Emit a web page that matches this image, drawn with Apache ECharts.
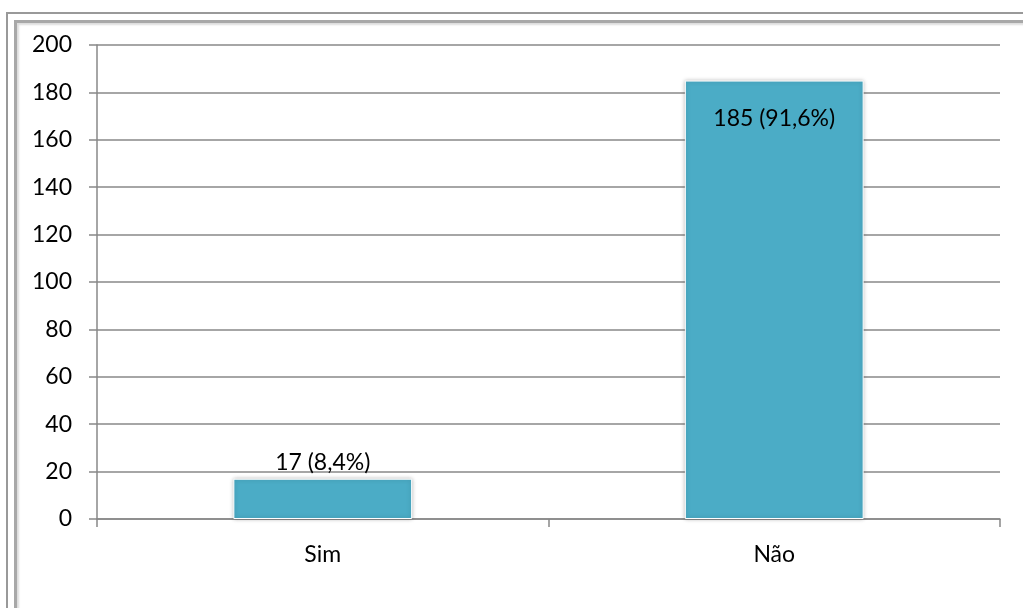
<!DOCTYPE html>
<html>
<head>
<meta charset="utf-8">
<script src="https://cdn.jsdelivr.net/npm/echarts@6/dist/echarts.min.js"></script>
<style>
html,body{margin:0;padding:0;background:#fff;}
#wrap{position:relative;width:1023px;height:608px;overflow:hidden;}
#main{position:absolute;left:0;top:0;width:1023px;height:608px;}
.f1{position:absolute;left:6px;top:12px;width:1100px;height:700px;border-left:2px solid #999;border-top:2px solid #999;}
.f2{position:absolute;left:14px;top:20px;width:1100px;height:700px;border-left:3px solid #a8a8a8;border-top:3px solid #a8a8a8;box-shadow:inset 2px 2px 2px #ddd;}
</style>
</head>
<body>
<div id="wrap">
<div class="f1"></div>
<div class="f2"></div>
<div id="main"></div>
</div>
<script>
// dados
var categorias = ['Sim', 'Não'];
var valores = [17, 185];
var rotulos = ['17 (8,4%)', '185 (91,6%)'];
var eixoY = {min: 0, max: 200, interval: 20};

var chart = echarts.init(document.getElementById('main'));
var fonte = 'Lato, "Open Sans", sans-serif';

var dados = [];
for (var i = 0; i < valores.length; i++) {
	dados.push({
		value: valores[i],
		label: i == 0 ? {position: 'top', distance: 5} : {position: 'insideTop', distance: 27}
	});
}

var option = {
	animation: false,
	grid: {left: 97, right: 23, top: 45, bottom: 89},
	xAxis: {
		type: 'category',
		data: categorias,
		axisLine: {lineStyle: {color: '#888', width: 1.5}},
		axisTick: {show: true, length: 8, lineStyle: {color: '#888', width: 1.5}},
		axisLabel: {color: '#000', fontSize: 23, fontFamily: fonte, margin: 24}
	},
	yAxis: {
		type: 'value',
		min: eixoY.min,
		max: eixoY.max,
		interval: eixoY.interval,
		axisLine: {show: true, lineStyle: {color: '#888', width: 1.5}},
		axisTick: {show: true, length: 8, lineStyle: {color: '#888', width: 1.5}},
		axisLabel: {color: '#000', fontSize: 23, fontFamily: fonte, margin: 25},
		splitLine: {lineStyle: {color: '#888', width: 1.5}}
	},
	series: [{
		type: 'bar',
		data: dados,
		barWidth: '39.6%',
		itemStyle: {
			color: '#4BACC6',
			borderColor: '#fff',
			borderWidth: 1,
			shadowColor: 'rgba(0,0,0,0.25)',
			shadowBlur: 4
		},
		label: {
			show: true,
			color: '#000',
			fontSize: 23,
			fontFamily: fonte,
			formatter: function (p) { return rotulos[p.dataIndex]; }
		}
	}]
};
chart.setOption(option);
</script>
</body>
</html>
